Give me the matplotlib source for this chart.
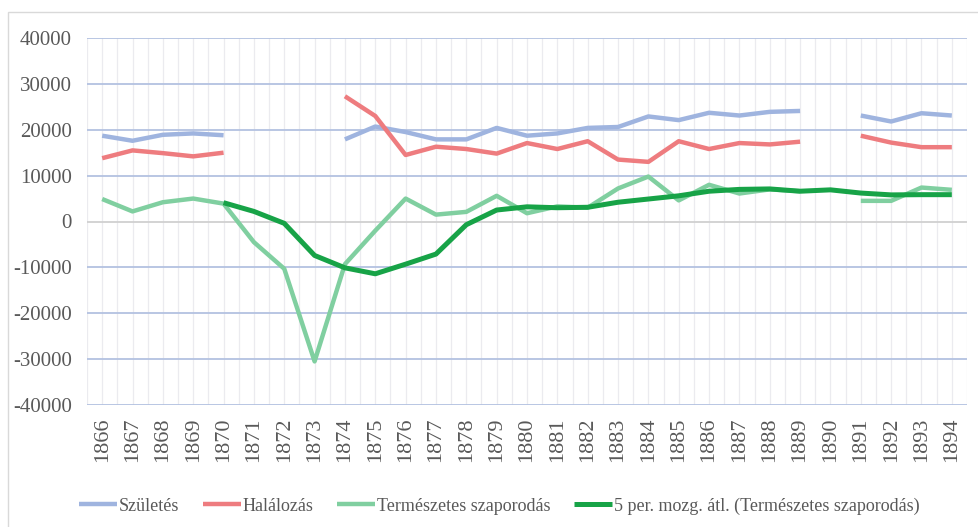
import numpy as np
import matplotlib
matplotlib.use("Agg")
import matplotlib.pyplot as plt
from matplotlib.patches import Rectangle

years = list(range(1866, 1895))
nan = np.nan
szuletes = [18700, 17600, 18900, 19200, 18800, nan, nan, nan,
            17900, 20700, 19500, 17900, 17900, 20400, 18700, 19200,
            20400, 20600, 22900, 22100, 23700, 23100, 23900, 24100,
            nan, 23100, 21800, 23600, 23100]
halalozas = [13800, 15500, 14900, 14200, 15000, nan, nan, nan,
             27300, 23000, 14500, 16300, 15800, 14800, 17100, 15800,
             17500, 13500, 13000, 17500, 15800, 17100, 16800, 17400,
             nan, 18700, 17200, 16200, 16200]
szaporodas = [4900, 2200, 4200, 5000, 3900, -4500, -10300, -30500,
              -9300, -2000, 5000, 1500, 2100, 5600, 1800, 3300,
              3000, 7200, 9800, 4600, 8000, 6100, 7000, 6600,
              nan, 4500, 4500, 7400, 6900]
mozg_atl = [nan, nan, nan, nan, 4100, 2200, -400, -7400,
            -10100, -11400, -9300, -7100, -700, 2500, 3200, 3000,
            3100, 4200, 4900, 5600, 6600, 7000, 7100, 6600,
            6900, 6200, 5800, 5850, 5850]
series_names = ["Születés", "Halálozás", "Természetes szaporodás",
                "5 per. mozg. átl. (Természetes szaporodás)"]
yticks = list(range(-40000, 40001, 10000))

plt.rcParams['font.family'] = ['Liberation Serif', 'DejaVu Serif']

fig = plt.figure(figsize=(9.79, 5.27), dpi=100)
fig.patches.append(Rectangle((8/979, -0.01), 1.0, 1 - 12/527 + 0.01,
                             transform=fig.transFigure, fill=False,
                             edgecolor='#d9d9d9', linewidth=1.0, zorder=0))
ax = fig.add_axes([87/979, 1 - 405/527, (967 - 87)/979, (405 - 38)/527])

x = np.arange(len(years))
ax.set_xlim(-0.5, len(years) - 0.5)
ax.set_ylim(-40000, 40000)

for xv in np.arange(-0.5, len(years), 0.5):
    ax.axvline(xv, color='#ebebef', linewidth=0.9, zorder=0)
for yv in yticks:
    ax.axhline(yv, color='#d0d0d0' if yv == 0 else '#b3c2e1',
               linewidth=1.3, zorder=0.5)

cols = ['#9fb4df', '#ee7c7f', '#80cfa0', '#17a347']
ax.plot(x, szuletes, color=cols[0], lw=3.2, label=series_names[0], solid_capstyle='butt', zorder=2)
ax.plot(x, halalozas, color=cols[1], lw=3.2, label=series_names[1], solid_capstyle='butt', zorder=2)
ax.plot(x, szaporodas, color=cols[2], lw=3.2, label=series_names[2], solid_capstyle='butt', zorder=2)
ax.plot(x, mozg_atl, color=cols[3], lw=3.6, label=series_names[3], solid_capstyle='butt', zorder=3)

ax.set_yticks(yticks)
ax.set_yticklabels([str(v) for v in yticks], fontsize=15, color='#595959')
ax.set_xticks(x)
ax.set_xticklabels([str(y) for y in years], rotation=90, fontsize=16, color='#595959')
ax.tick_params(axis='both', length=0)
ax.tick_params(axis='x', pad=9)
ax.tick_params(axis='y', pad=11)
for s in ax.spines.values():
    s.set_visible(False)

leg = fig.legend(loc='center', bbox_to_anchor=(0.51, 1 - 506/527), ncol=4,
                 frameon=False, fontsize=13, handlelength=2.1, handletextpad=0.1,
                 columnspacing=1.3, labelcolor='#595959')

fig.savefig('out.png', dpi=100)
